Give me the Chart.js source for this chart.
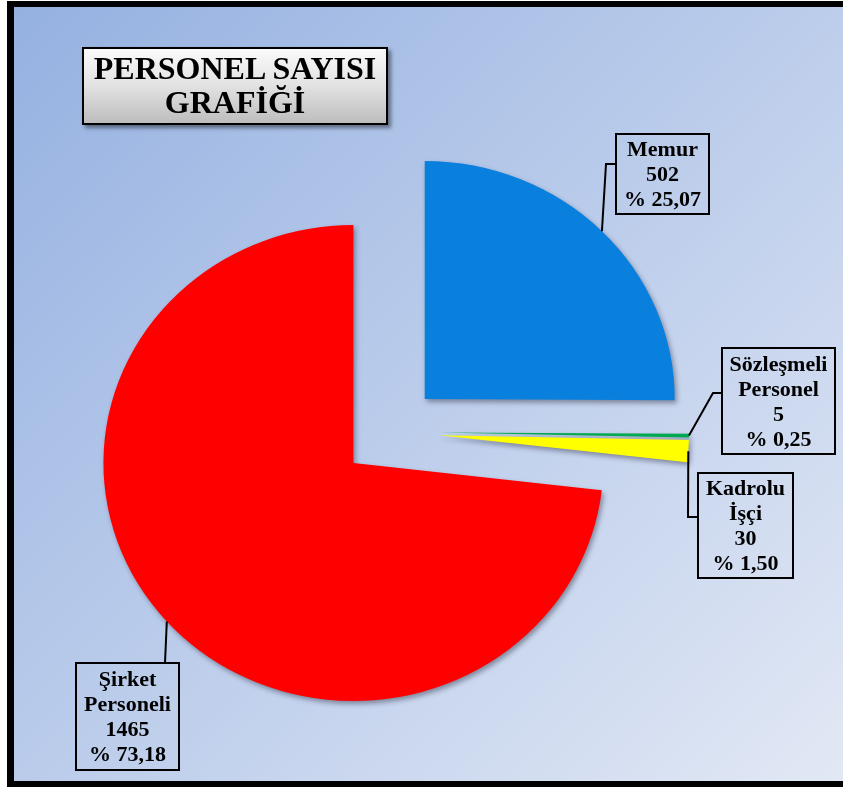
<!DOCTYPE html>
<html lang="tr">
<head>
<meta charset="utf-8">
<title>Personel Sayısı Grafiği</title>
<script src="https://cdn.jsdelivr.net/npm/chart.js@4/dist/chart.umd.min.js"></script>
<style>
    html, body { margin: 0; padding: 0; background: #fff; }
    #page { position: relative; width: 843px; height: 787px; overflow: hidden; }
    #frame {
        position: absolute; left: 7px; top: 1px; width: 860px; height: 786px;
        box-sizing: border-box;
        border-style: solid; border-color: #000;
        border-width: 6px 0 6px 7px;
        background: linear-gradient(135deg, #95b1e1 0%, #bccdeb 50%, #e3e9f5 100%);
    }
    #chart { position: absolute; left: 0; top: 0; }
    #title {
        position: absolute; left: 82px; top: 47px; width: 306px; height: 78px;
        box-sizing: border-box; border: 2px solid #000;
        background: linear-gradient(180deg, #fafafa 0%, #e2e2e2 50%, #bdbdbd 100%);
        box-shadow: 3px 3px 4px rgba(0, 0, 0, 0.45);
        font: bold 32px "Liberation Serif", "Times New Roman", serif;
        line-height: 34px; text-align: center; padding-top: 2px; color: #000;
    }
</style>
</head>
<body>
<div id="page">
    <div id="frame"></div>
    <canvas id="chart" width="843" height="787"></canvas>
    <div id="title">PERSONEL SAYISI<br>GRAFİĞİ</div>
</div>
<script>
// 데이터
const categories = [['Memur'], ['Sözleşmeli', 'Personel'], ['Kadrolu', 'İşçi'], ['Şirket', 'Personeli']];
const counts = [502, 5, 30, 1465];
const sliceColors = ['#0a80de', '#00a850', '#ffff00', '#ff0000'];

const total = counts.reduce((a, b) => a + b, 0);

const RADIUS = 250;    // 파이 반지름(px)
const EXPLODE = 49;    // 조각이 중심에서 떨어지는 거리(px)
const SQUASH = 0.952;  // 원을 세로로 살짝 눌러서 타원처럼

// 레이블 상자 위치 (x, y, w, h) 와 지시선 꺾임점
const labelBoxes = [
    { x: 616, y: 134, w: 93, h: 80, leader: [[606, 164], [616, 164]] },
    { x: 722, y: 348, w: 113, h: 106, leader: [[713, 393], [722, 393]] },
    { x: 698, y: 473, w: 95, h: 105, leader: [[688, 517], [698, 517]] },
    { x: 76, y: 663, w: 103, h: 107, leader: [[165, 663]] }
];

function pctText(value) {
    return '% ' + (value / total * 100).toFixed(2).replace('.', ',');
}

function pieCenter(chart) {
    const a = chart.chartArea;
    return { x: (a.left + a.right) / 2, y: (a.top + a.bottom) / 2 };
}

// 조각 분리 + 세로 압축 + 그림자
// (v4 offset 옵션은 얇은 조각을 깎아버려서 직접 중심을 옮김)
const explodePlugin = {
    id: 'explode',
    beforeDatasetsDraw(chart) {
        const ctx = chart.ctx;
        const c = pieCenter(chart);
        chart.getDatasetMeta(0).data.forEach(arc => {
            const mid = (arc.startAngle + arc.endAngle) / 2;
            arc.x = c.x + Math.cos(mid) * EXPLODE;
            arc.y = c.y + Math.sin(mid) * EXPLODE;
        });
        ctx.save();
        ctx.translate(0, c.y);
        ctx.scale(1, SQUASH);
        ctx.translate(0, -c.y);
        ctx.shadowColor = 'rgba(40, 40, 60, 0.45)';
        ctx.shadowBlur = 5;
        ctx.shadowOffsetX = 2;
        ctx.shadowOffsetY = 3;
    },
    afterDatasetsDraw(chart) {
        chart.ctx.restore();
    }
};

const calloutPlugin = {
    id: 'callouts',
    afterDraw(chart) {
        const ctx = chart.ctx;
        const c = pieCenter(chart);
        ctx.save();
        chart.getDatasetMeta(0).data.forEach((arc, i) => {
            const mid = (arc.startAngle + arc.endAngle) / 2;
            const ax = arc.x + Math.cos(mid) * RADIUS;
            const ay = c.y + (arc.y + Math.sin(mid) * RADIUS - c.y) * SQUASH;
            const box = labelBoxes[i];

            // 지시선
            ctx.strokeStyle = '#000';
            ctx.lineWidth = 2;
            ctx.beginPath();
            ctx.moveTo(ax, ay);
            box.leader.forEach(pt => ctx.lineTo(pt[0], pt[1]));
            ctx.stroke();

            // 상자
            ctx.strokeRect(box.x, box.y, box.w, box.h);

            // 텍스트
            const lines = categories[i].concat([String(counts[i]), pctText(counts[i])]);
            const lh = 25;
            const top = box.y + box.h / 2 - (lines.length - 1) * lh / 2 + 1.5;
            ctx.fillStyle = '#000';
            ctx.font = 'bold 22px "Liberation Serif", "Times New Roman", serif';
            ctx.textAlign = 'center';
            ctx.textBaseline = 'middle';
            lines.forEach((t, k) => ctx.fillText(t, box.x + box.w / 2, top + k * lh));
        });
        ctx.restore();
    }
};

new Chart(document.getElementById('chart'), {
    type: 'pie',
    data: {
        labels: categories,
        datasets: [{
            data: counts,
            backgroundColor: sliceColors,
            borderWidth: 0,
            offset: 0,
            hoverOffset: 0
        }]
    },
    options: {
        responsive: false,
        animation: false,
        radius: RADIUS,
        layout: { padding: { left: 0, right: 63, top: 77, bottom: 0 } },
        plugins: {
            legend: { display: false },
            tooltip: { enabled: false }
        }
    },
    plugins: [explodePlugin, calloutPlugin]
});
</script>
</body>
</html>
